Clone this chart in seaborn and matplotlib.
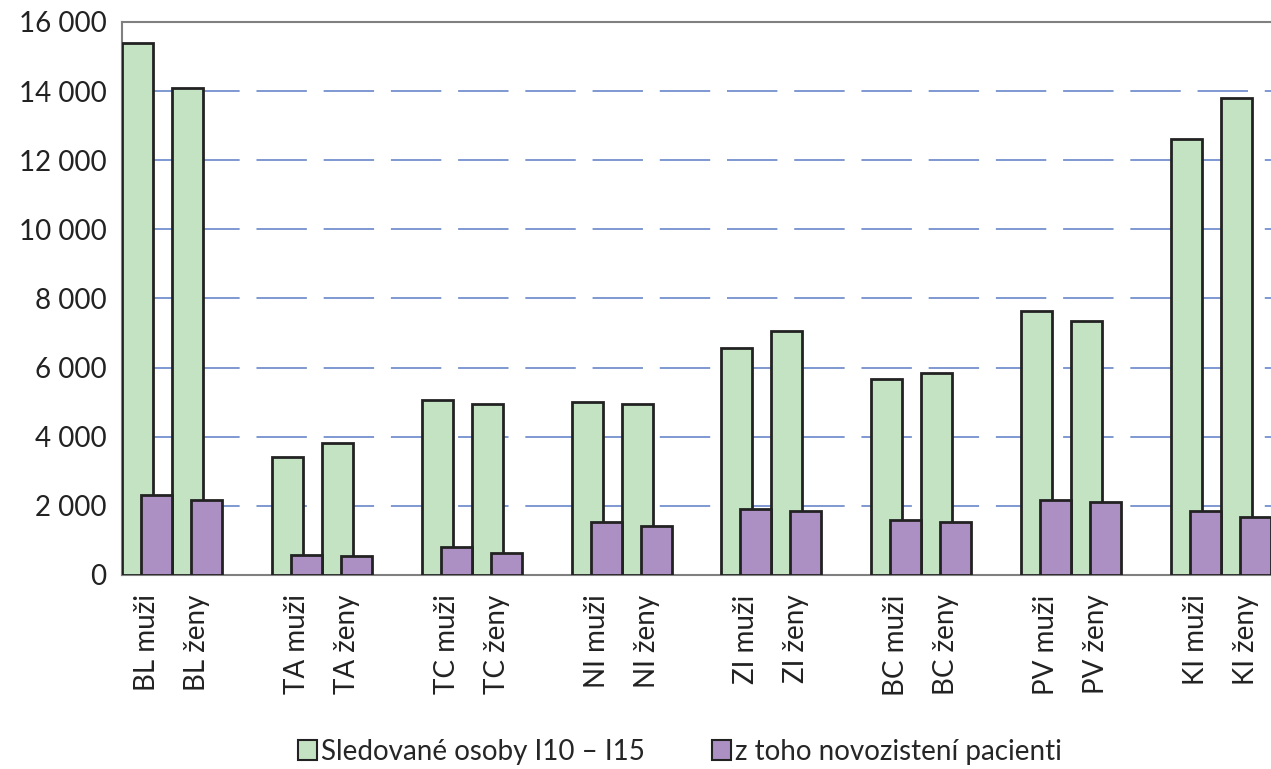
import numpy as np
import pandas as pd
import matplotlib
matplotlib.use("Agg")
import matplotlib.pyplot as plt
from matplotlib.patches import Patch
import seaborn as sns

# slots on the x axis (blank slots separate the regions)
slots = ["BL muži", "BL ženy", " ",
         "TA muži", "TA ženy", "  ",
         "TC muži", "TC ženy", "   ",
         "NI muži", "NI ženy", "    ",
         "ZI muži", "ZI ženy", "     ",
         "BC muži", "BC ženy", "      ",
         "PV muži", "PV ženy", "       ",
         "KI muži", "KI ženy"]
categories = [s for s in slots if s.strip()]

sledovane = [15390, 14100, 3400, 3810, 5050, 4940, 5000, 4950,
             6580, 7060, 5680, 5830, 7640, 7350, 12620, 13800]
novozistene = [2300, 2170, 580, 540, 810, 630, 1545, 1420,
               1920, 1860, 1590, 1545, 2170, 2100, 1850, 1690]

label_green = "Sledované osoby I10 – I15"
label_purple = "z toho novozistení pacienti"
green = "#c4e3c2"
purple = "#ac90c3"

df = pd.DataFrame({"kat": categories, "sled": sledovane, "novo": novozistene})

sns.set_style("white")
plt.rcParams["font.family"] = ["Lato", "DejaVu Sans"]

fig = plt.figure(figsize=(12.71, 7.69), dpi=100)
ax = fig.add_axes([0.096, 0.2523, 0.904, 0.7191])

bar_w = 0.62
shift = 0.19
sns.barplot(data=df, x="kat", y="sled", order=slots, color=green, saturation=1,
            width=bar_w, edgecolor="#222222", linewidth=2, ax=ax, zorder=3)
n_green = len(ax.patches)
sns.barplot(data=df, x="kat", y="novo", order=slots, color=purple, saturation=1,
            width=bar_w, edgecolor="#222222", linewidth=2, ax=ax, zorder=4)

# overlap the two series like the original chart
for i, p in enumerate(ax.patches):
    if i < n_green:
        p.set_x(p.get_x() - shift)
    else:
        p.set_x(p.get_x() + shift)

ax.set_xlim(-0.5, len(slots) - 0.5)
ax.set_ylim(0, 16000)
yt = np.arange(0, 16001, 2000)
ax.set_yticks(yt)
ax.set_yticklabels([f"{v:,}".replace(",", " ") for v in yt], fontsize=20, color="#222222")

# dashed grid lines
for v in yt[1:-1]:
    ax.axhline(v, color="#5b7cc4", linewidth=1.1, dashes=(33, 11), zorder=1)

ax.set_xticks(range(len(slots)))
ax.set_xticklabels(slots, rotation=90, fontsize=20, color="#222222")
ax.set_xticks(np.arange(-0.5, len(slots), 1), minor=True)
ax.tick_params(axis="x", which="major", length=0, pad=14)
ax.tick_params(axis="x", which="minor", length=7, width=1.2, color="#808080", direction="out")
ax.tick_params(axis="y", length=5, width=1.2, color="#808080", direction="out", pad=6)
ax.set_xlabel("")
ax.set_ylabel("")

for s in ["left", "top", "bottom"]:
    ax.spines[s].set_color("#808080")
    ax.spines[s].set_linewidth(1.5)
ax.spines["right"].set_visible(False)

handles = [Patch(facecolor=green, edgecolor="#222222", linewidth=1.5),
           Patch(facecolor=purple, edgecolor="#222222", linewidth=1.5)]
fig.legend(handles, [label_green, label_purple], loc="lower center",
           bbox_to_anchor=(0.535, -0.027), ncol=2, frameon=False, fontsize=20,
           handlelength=0.7, handleheight=0.7, handletextpad=0.15,
           columnspacing=2.4)

fig.savefig("out.png", dpi=100)
